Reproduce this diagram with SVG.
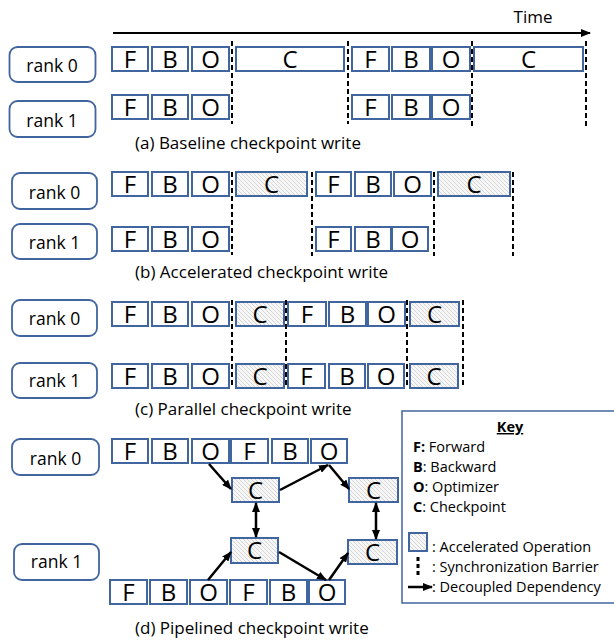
<svg xmlns="http://www.w3.org/2000/svg" width="614" height="641" viewBox="0 0 614 641">
<style>
text{font-family:"Open Sans","Liberation Sans",sans-serif;fill:#000}
.b{fill:#fff;stroke:#41659f;stroke-width:2}
.h{fill:url(#hatch);stroke:#41659f;stroke-width:2}
.r{fill:#fff;stroke:#41659f;stroke-width:1.8}
.l{font-size:24px;text-anchor:middle}
.rk{font-size:17.5px;text-anchor:middle}
.cap{font-size:17px}
.k{font-size:14.5px}
.d{stroke:#000;stroke-width:2;stroke-dasharray:5 3;fill:none}
.a{stroke:#000;stroke-width:2.5;fill:none}
</style>
<defs>
<pattern id="hatch" width="4" height="4" patternUnits="userSpaceOnUse">
<rect width="4" height="4" fill="#f7f7f7"/>
<path d="M-1,-1 L5,5 M-1,3 L1,5 M3,-1 L5,1" stroke="#cdcdcd" stroke-width="0.8"/>
</pattern>
<marker id="ah" markerWidth="10" markerHeight="8" refX="9" refY="4" orient="auto" markerUnits="userSpaceOnUse">
<path d="M0,0 L10,4 L0,8 Z" fill="#000"/>
</marker>
<marker id="as" markerWidth="10" markerHeight="8" refX="1" refY="4" orient="auto" markerUnits="userSpaceOnUse">
<path d="M10,0 L0,4 L10,8 Z" fill="#000"/>
</marker>
</defs>

<!-- time axis -->
<g id="time">
<line x1="113" y1="33" x2="590" y2="33" stroke="#000" stroke-width="2" marker-end="url(#ah)"/>
<text x="533" y="23" class="cap" text-anchor="middle">Time</text>
</g>

<!-- (a) -->
<g id="a-rank0"><rect class="r" x="9.5" y="47" width="86" height="35" rx="8"/><text class="rk" x="52" y="72">rank 0</text></g>
<g id="a-rank1"><rect class="r" x="9.5" y="101" width="86" height="36" rx="8"/><text class="rk" x="52" y="127">rank 1</text></g>
<g id="a-r0">
<rect class="b" x="112" y="47" width="36" height="24"/><text class="l" x="130" y="68">F</text>
<rect class="b" x="152" y="47" width="36" height="24"/><text class="l" x="170" y="68">B</text>
<rect class="b" x="192" y="47" width="37" height="24"/><text class="l" x="210.5" y="68">O</text>
<rect class="b" x="236" y="47" width="108" height="24"/><text class="l" x="290" y="68">C</text>
<rect class="b" x="352" y="47" width="37" height="24"/><text class="l" x="370.5" y="68">F</text>
<rect class="b" x="392" y="47" width="38" height="24"/><text class="l" x="411" y="68">B</text>
<rect class="b" x="432" y="47" width="38" height="24"/><text class="l" x="451" y="68">O</text>
<rect class="b" x="474" y="47" width="109" height="24"/><text class="l" x="528.5" y="68">C</text>
</g>
<g id="a-r1">
<rect class="b" x="112" y="95" width="36" height="24"/><text class="l" x="130" y="116">F</text>
<rect class="b" x="152" y="95" width="36" height="24"/><text class="l" x="170" y="116">B</text>
<rect class="b" x="192" y="95" width="37" height="24"/><text class="l" x="210.5" y="116">O</text>
<rect class="b" x="352" y="95" width="37" height="24"/><text class="l" x="370.5" y="116">F</text>
<rect class="b" x="392" y="95" width="38" height="24"/><text class="l" x="411" y="116">B</text>
<rect class="b" x="432" y="95" width="38" height="24"/><text class="l" x="451" y="116">O</text>
</g>
<g id="a-barriers">
<line class="d" x1="232" y1="41" x2="232" y2="124"/>
<line class="d" x1="348" y1="41" x2="348" y2="124"/>
<line class="d" x1="472" y1="41" x2="472" y2="128"/>
<line class="d" x1="586" y1="41" x2="586" y2="128"/>
</g>
<text class="cap" x="135" y="149">(a) Baseline checkpoint write</text>

<!-- (b) -->
<g id="b-rank0"><rect class="r" x="12" y="173" width="85" height="36" rx="8"/><text class="rk" x="54.5" y="199">rank 0</text></g>
<g id="b-rank1"><rect class="r" x="12" y="224" width="85" height="35" rx="8"/><text class="rk" x="54.5" y="249">rank 1</text></g>
<g id="b-r0">
<rect class="b" x="112" y="172" width="36" height="24"/><text class="l" x="130" y="193">F</text>
<rect class="b" x="152" y="172" width="36" height="24"/><text class="l" x="170" y="193">B</text>
<rect class="b" x="192" y="172" width="37" height="24"/><text class="l" x="210.5" y="193">O</text>
<rect class="h" x="236" y="172" width="71" height="24"/><text class="l" x="271.5" y="193">C</text>
<rect class="b" x="316" y="172" width="35" height="24"/><text class="l" x="333.5" y="193">F</text>
<rect class="b" x="355" y="172" width="36" height="24"/><text class="l" x="373" y="193">B</text>
<rect class="b" x="394" y="172" width="37" height="24"/><text class="l" x="412.5" y="193">O</text>
<rect class="h" x="438" y="172" width="72" height="24"/><text class="l" x="474" y="193">C</text>
</g>
<g id="b-r1">
<rect class="b" x="112" y="227" width="36" height="24"/><text class="l" x="130" y="248">F</text>
<rect class="b" x="152" y="227" width="36" height="24"/><text class="l" x="170" y="248">B</text>
<rect class="b" x="192" y="227" width="37" height="24"/><text class="l" x="210.5" y="248">O</text>
<rect class="b" x="316" y="227" width="35" height="24"/><text class="l" x="333.5" y="248">F</text>
<rect class="b" x="355" y="227" width="36" height="24"/><text class="l" x="373" y="248">B</text>
<rect class="b" x="392" y="227" width="36" height="24"/><text class="l" x="410" y="248">O</text>
</g>
<g id="b-barriers">
<line class="d" x1="232" y1="172" x2="232" y2="255"/>
<line class="d" x1="312" y1="172" x2="312" y2="256"/>
<line class="d" x1="434" y1="172" x2="434" y2="256"/>
<line class="d" x1="513" y1="172" x2="513" y2="256"/>
</g>
<text class="cap" x="135" y="278">(b) Accelerated checkpoint write</text>

<!-- (c) -->
<g id="c-rank0"><rect class="r" x="12" y="300" width="85" height="36" rx="8"/><text class="rk" x="54.5" y="325">rank 0</text></g>
<g id="c-rank1"><rect class="r" x="12" y="363" width="85" height="35" rx="8"/><text class="rk" x="54.5" y="387">rank 1</text></g>
<g id="c-r0">
<rect class="b" x="112" y="302" width="36" height="24"/><text class="l" x="130" y="323">F</text>
<rect class="b" x="152" y="302" width="36" height="24"/><text class="l" x="170" y="323">B</text>
<rect class="b" x="192" y="302" width="37" height="24"/><text class="l" x="210.5" y="323">O</text>
<rect class="h" x="236" y="302" width="48" height="24"/><text class="l" x="260" y="323">C</text>
<rect class="b" x="288" y="302" width="38" height="24"/><text class="l" x="307" y="323">F</text>
<rect class="b" x="329" y="302" width="37" height="24"/><text class="l" x="347.5" y="323">B</text>
<rect class="b" x="368" y="302" width="37" height="24"/><text class="l" x="386.5" y="323">O</text>
<rect class="h" x="410" y="302" width="49" height="24"/><text class="l" x="434.5" y="323">C</text>
</g>
<g id="c-r1">
<rect class="b" x="112" y="364" width="36" height="24"/><text class="l" x="130" y="385">F</text>
<rect class="b" x="152" y="364" width="36" height="24"/><text class="l" x="170" y="385">B</text>
<rect class="b" x="192" y="364" width="37" height="24"/><text class="l" x="210.5" y="385">O</text>
<rect class="h" x="236" y="364" width="48" height="24"/><text class="l" x="260" y="385">C</text>
<rect class="b" x="288" y="364" width="37" height="24"/><text class="l" x="306.5" y="385">F</text>
<rect class="b" x="329" y="364" width="36" height="24"/><text class="l" x="347" y="385">B</text>
<rect class="b" x="368" y="364" width="36" height="24"/><text class="l" x="386" y="385">O</text>
<rect class="h" x="410" y="364" width="48" height="24"/><text class="l" x="434" y="385">C</text>
</g>
<g id="c-barriers">
<line class="d" x1="232" y1="300" x2="232" y2="388"/>
<line class="d" x1="286" y1="300" x2="286" y2="388"/>
<line class="d" x1="407" y1="300" x2="407" y2="388"/>
<line class="d" x1="463" y1="300" x2="463" y2="388"/>
</g>
<text class="cap" x="135" y="415">(c) Parallel checkpoint write</text>

<!-- (d) -->
<g id="d-rank0"><rect class="r" x="12" y="439" width="87" height="36" rx="8"/><text class="rk" x="55.5" y="465">rank 0</text></g>
<g id="d-rank1"><rect class="r" x="14" y="544" width="85" height="36" rx="8"/><text class="rk" x="56.5" y="568">rank 1</text></g>
<g id="d-r0">
<rect class="b" x="112" y="439" width="36" height="24"/><text class="l" x="130" y="460">F</text>
<rect class="b" x="152" y="439" width="36" height="24"/><text class="l" x="170" y="460">B</text>
<rect class="b" x="192" y="439" width="37" height="24"/><text class="l" x="210.5" y="460">O</text>
<rect class="b" x="231" y="439" width="37" height="24"/><text class="l" x="249.5" y="460">F</text>
<rect class="b" x="272" y="439" width="36" height="24"/><text class="l" x="290" y="460">B</text>
<rect class="b" x="311" y="439" width="36" height="24"/><text class="l" x="329" y="460">O</text>
</g>
<g id="d-r1">
<rect class="b" x="110" y="580" width="37" height="24"/><text class="l" x="128.5" y="601">F</text>
<rect class="b" x="150" y="580" width="37" height="24"/><text class="l" x="168.5" y="601">B</text>
<rect class="b" x="190" y="580" width="37" height="24"/><text class="l" x="208.5" y="601">O</text>
<rect class="b" x="230" y="580" width="37" height="24"/><text class="l" x="248.5" y="601">F</text>
<rect class="b" x="270" y="580" width="37" height="24"/><text class="l" x="288.5" y="601">B</text>
<rect class="b" x="309" y="580" width="36" height="24"/><text class="l" x="327" y="601">O</text>
</g>
<g id="d-c1"><rect class="h" x="232" y="478" width="47" height="24"/><text class="l" x="255.5" y="499">C</text></g>
<g id="d-c2"><rect class="h" x="349" y="478" width="49" height="24"/><text class="l" x="373.5" y="499">C</text></g>
<g id="d-c3"><rect class="h" x="231" y="538" width="47" height="25"/><text class="l" x="254.5" y="559">C</text></g>
<g id="d-c4"><rect class="h" x="348" y="540" width="49" height="24"/><text class="l" x="372.5" y="561">C</text></g>
<g id="connectors">
<line class="a" x1="209" y1="464" x2="231" y2="489" marker-end="url(#ah)"/>
<line class="a" x1="280" y1="490" x2="328" y2="465" marker-end="url(#ah)"/>
<line class="a" x1="329" y1="465" x2="349" y2="489" marker-end="url(#ah)"/>
<line class="a" x1="256" y1="503" x2="256" y2="537" marker-start="url(#as)" marker-end="url(#ah)"/>
<line class="a" x1="376" y1="503" x2="376" y2="539" marker-start="url(#as)" marker-end="url(#ah)"/>
<line class="a" x1="208" y1="580" x2="231" y2="552" marker-end="url(#ah)"/>
<line class="a" x1="279" y1="552" x2="326" y2="580" marker-end="url(#ah)"/>
<line class="a" x1="329" y1="580" x2="348" y2="553" marker-end="url(#ah)"/>
</g>
<text class="cap" x="135" y="634">(d) Pipelined checkpoint write</text>

<!-- key -->
<g id="key">
<rect x="402" y="411" width="220" height="192" fill="#fff" stroke="#41659f" stroke-width="1.5"/>
<text class="k" x="510" y="432" text-anchor="middle" font-weight="bold" text-decoration="underline">Key</text>
<text class="k" x="413" y="452"><tspan font-weight="bold">F:</tspan> Forward</text>
<text class="k" x="413" y="472"><tspan font-weight="bold">B</tspan>: Backward</text>
<text class="k" x="413" y="492"><tspan font-weight="bold">O</tspan>: Optimizer</text>
<text class="k" x="413" y="512"><tspan font-weight="bold">C</tspan>: Checkpoint</text>
<rect class="h" x="409" y="533" width="18" height="18" stroke-width="1.5"/>
<text class="k" x="432" y="552">: Accelerated Operation</text>
<g fill="#000"><rect x="416.5" y="557" width="3" height="4"/><rect x="416.5" y="564" width="3" height="4"/><rect x="416.5" y="571" width="3" height="4"/></g>
<text class="k" x="432" y="572">: Synchronization Barrier</text>
<line x1="408" y1="587" x2="432" y2="587" stroke="#000" stroke-width="2.5" marker-end="url(#ah)"/>
<text class="k" x="432" y="592">: Decoupled Dependency</text>
</g>
</svg>
